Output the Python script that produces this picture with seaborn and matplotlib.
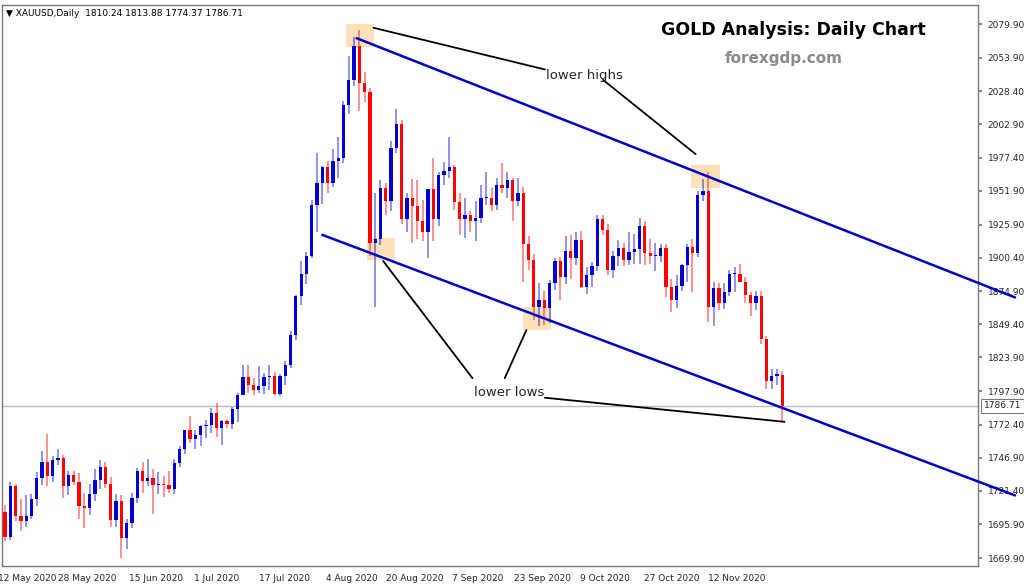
import matplotlib
matplotlib.use("Agg")
import matplotlib.pyplot as plt
from matplotlib.patches import Rectangle
import numpy as np
import seaborn as sns

# daily XAUUSD candles, 6 May 2020 .. 27 Nov 2020
opens = [1705, 1686, 1725, 1702, 1698, 1702, 1715, 1731, 1744, 1733, 1745, 1747, 1725, 1734, 1728, 1710, 1708, 1719,
         1730, 1740, 1727, 1699, 1714, 1685, 1697, 1716, 1737, 1729, 1731, 1726, 1727, 1726, 1723, 1743, 1754, 1768,
         1761, 1764, 1771, 1772,
         1781, 1770, 1775, 1773, 1784, 1795, 1809, 1803, 1799, 1802, 1809, 1810, 1796, 1810, 1818, 1841, 1871, 1888,
         1902, 1941, 1958, 1970, 1958,
         1975, 1977, 2018, 2037, 2063, 2035, 2028, 1912, 1915, 1954, 1944, 1985, 2003, 1930, 1946, 1940, 1929, 1920,
         1953, 1930, 1964,
         1967, 1970, 1943, 1930, 1933, 1929, 1931, 1946, 1946, 1941, 1956, 1954, 1960, 1944, 1950, 1911, 1899, 1863,
         1868, 1862, 1881, 1898,
         1886, 1906, 1900, 1914, 1878, 1887, 1894, 1930, 1922, 1891, 1902, 1908, 1899, 1905, 1907, 1925, 1904, 1902,
         1902, 1908, 1878, 1868,
         1879, 1895, 1909, 1904, 1949, 1952, 1863, 1877, 1866, 1874, 1888, 1888, 1882, 1872, 1866, 1871, 1838, 1806,
         1810, 1810.24]
highs = [1711, 1728, 1727, 1715, 1718, 1719, 1736, 1752, 1765, 1748, 1754, 1749, 1737, 1737, 1735, 1720, 1727, 1738,
         1745, 1744, 1732, 1719, 1718, 1700, 1720, 1739, 1744, 1746, 1738, 1736, 1733, 1737, 1746, 1756, 1768, 1779,
         1768, 1772, 1776, 1785,
         1789, 1776, 1777, 1786, 1797, 1818, 1818, 1808, 1817, 1812, 1818, 1813, 1811, 1821, 1844, 1872, 1898, 1905,
         1945, 1981, 1971, 1975, 1984,
         1993, 2021, 2055, 2070, 2075, 2043, 2031, 1950, 1960, 1958, 1990, 2015, 2006, 1950, 1961, 1960, 1945, 1953,
         1977, 1966, 1974,
         1993, 1972, 1950, 1946, 1936, 1944, 1956, 1966, 1954, 1962, 1973, 1966, 1962, 1962, 1955, 1917, 1903, 1881,
         1875, 1883, 1900, 1901,
         1917, 1918, 1920, 1921, 1893, 1897, 1933, 1933, 1926, 1906, 1914, 1912, 1920, 1919, 1931, 1929, 1915, 1912,
         1911, 1911, 1884, 1887,
         1896, 1911, 1915, 1952, 1961, 1966, 1882, 1881, 1881, 1891, 1893, 1896, 1886, 1874, 1875, 1875, 1840, 1815,
         1815, 1813.88]
lows = [1683, 1684, 1698, 1691, 1694, 1700, 1710, 1726, 1725, 1728, 1741, 1716, 1718, 1726, 1700, 1693, 1703, 1714,
        1723, 1724, 1694, 1694, 1670, 1677, 1693, 1712, 1720, 1725, 1704, 1719, 1717, 1720, 1719, 1740, 1750, 1758,
        1754, 1756, 1762, 1766,
        1763, 1757, 1770, 1769, 1774, 1795, 1797, 1795, 1797, 1796, 1799, 1795, 1794, 1803, 1816, 1837, 1864, 1880,
        1900, 1920, 1942, 1950, 1955,
        1962, 1973, 2011, 2032, 2013, 2020, 1902, 1863, 1910, 1933, 1936, 1981, 1926, 1920, 1912, 1915, 1913, 1900,
        1913, 1925, 1956,
        1962, 1937, 1918, 1916, 1920, 1913, 1927, 1941, 1936, 1937, 1950, 1946, 1929, 1940, 1882, 1891, 1853, 1848,
        1849, 1850, 1876, 1868,
        1880, 1884, 1895, 1877, 1873, 1878, 1890, 1918, 1887, 1885, 1894, 1894, 1895, 1896, 1896, 1895, 1896, 1890,
        1897, 1870, 1859, 1862,
        1875, 1882, 1874, 1901, 1944, 1851, 1848, 1860, 1861, 1871, 1874, 1882, 1866, 1856, 1860, 1834, 1800, 1800,
        1803, 1774.37]
closes = [1686, 1725, 1702, 1698, 1702, 1715, 1731, 1744, 1733, 1745, 1747, 1725, 1734, 1728, 1710, 1708, 1719, 1730,
          1740, 1727, 1699, 1714, 1685, 1697, 1716, 1737, 1729, 1731, 1726, 1727, 1726, 1723, 1743, 1754, 1768, 1761,
          1764, 1771, 1772, 1781,
          1770, 1775, 1773, 1784, 1795, 1809, 1803, 1799, 1802, 1809, 1810, 1796, 1810, 1818, 1841, 1871, 1888, 1902,
          1941, 1958, 1970, 1958, 1975,
          1977, 2018, 2037, 2063, 2035, 2028, 1912, 1915, 1954, 1944, 1985, 2003, 1930, 1946, 1940, 1929, 1920, 1953,
          1930, 1964, 1967,
          1970, 1943, 1930, 1933, 1929, 1931, 1946, 1946, 1941, 1956, 1954, 1960, 1944, 1950, 1911, 1899, 1863, 1868,
          1862, 1881, 1898, 1886,
          1906, 1900, 1914, 1878, 1887, 1894, 1930, 1922, 1891, 1902, 1908, 1899, 1905, 1907, 1925, 1904, 1902, 1902,
          1908, 1878, 1868, 1879,
          1895, 1909, 1904, 1949, 1952, 1863, 1877, 1866, 1874, 1888, 1888, 1882, 1872, 1866, 1871, 1838, 1806, 1810,
          1811, 1786.71]

date_ticks = [4.2, 15.6, 28.5, 40, 52.9, 65.6, 77.4, 89.4, 101.7, 113.5, 126, 138.4]
date_labels = ["12 May 2020", "28 May 2020", "15 Jun 2020", "1 Jul 2020", "17 Jul 2020", "4 Aug 2020",
               "20 Aug 2020", "7 Sep 2020", "23 Sep 2020", "9 Oct 2020", "27 Oct 2020", "12 Nov 2020"]
price_ticks = [2079.90, 2053.90, 2028.40, 2002.90, 1977.40, 1951.90, 1925.90, 1900.40, 1874.90, 1849.40,
               1823.90, 1797.90, 1772.40, 1746.90, 1721.40, 1695.90, 1669.90]
last_price = 1786.71

sns.set_theme(style="white")
plt.rcParams['font.family'] = ['DejaVu Sans']

fig = plt.figure(figsize=(10.24, 5.86), dpi=100)
ax = fig.add_axes([2 / 1024, 20 / 586, 976 / 1024, 561 / 586])

UP, DOWN = "#0000CC", "#FF0000"
x = np.arange(len(closes))
o, h, l, c = map(np.array, (opens, highs, lows, closes))
cols = [UP if cc >= oo else DOWN for oo, cc in zip(o, c)]
ax.vlines(x, l, h, colors=cols, linewidth=1.2, alpha=0.5, zorder=2)
body = np.maximum(np.abs(c - o), 0.8)
ax.bar(x, body, bottom=np.minimum(o, c), width=0.62, color=cols, linewidth=0, zorder=3)

ax.set_xlim(-0.57, 184)
ax.set_ylim(1663.8, 2094.5)

# current price line
ax.axhline(last_price, color="#bbbbbb", lw=1, zorder=1)

# channel lines
ax.plot([66.5, 191], [2069, 1870], color="#0000CC", lw=1.8, clip_on=False, zorder=4)
ax.plot([60, 191], [1918, 1718], color="#0000CC", lw=1.8, clip_on=False, zorder=4)

# highlight boxes
for x0, x1, y0, y1 in [(64.5, 69.7, 2062, 2080), (68.5, 73.7, 1898.6, 1915.5),
                       (98, 103.3, 1845, 1863), (129.7, 135.2, 1954, 1971.6)]:
    ax.add_patch(Rectangle((x0, y0), x1 - x0, y1 - y0, color="#FBD9A6", alpha=0.8, lw=0, zorder=1))

# annotation lines
for (xa, ya), (xb, yb) in [((69.7, 2077), (102.1, 2045)),
                           ((113.1, 2037), (130.6, 1980)),
                           ((71.5, 1898), (88.4, 1808)),
                           ((98.6, 1845), (94.5, 1808)),
                           ((102.1, 1793), (147.4, 1774.5))]:
    ax.plot([xa, xb], [ya, yb], color="black", lw=1.3, zorder=5)

ax.text((581 - 5) / 5.26, 2040, "lower highs", ha="center", va="center", fontsize=9.5, zorder=6)
ax.text((507 - 5) / 5.26, 1797, "lower lows", ha="center", va="center", fontsize=9.5, zorder=6)

fig.text(793 / 1024, 1 - 30 / 586, "GOLD Analysis: Daily Chart", ha="center", va="center",
         fontsize=12.5, fontweight="bold", color="black")
fig.text(784 / 1024, 1 - 58 / 586, "forexgdp.com", ha="center", va="center",
         fontsize=11, fontweight="bold", color="#8a8a8a")
fig.text(6 / 1024, 1 - 14 / 586, "\u25BC XAUUSD,Daily  1810.24 1813.88 1774.37 1786.71", ha="left",
         va="center", fontsize=6.5, color="black")

# axes styling
for s in ax.spines.values():
    s.set_color("#777777")
    s.set_linewidth(1)
ax.yaxis.tick_right()
ax.set_yticks(price_ticks)
ax.set_yticklabels([f"{p:.2f}" for p in price_ticks], fontsize=6.5)
ax.tick_params(axis="y", length=3, color="#777777", pad=4)
ax.set_xticks(date_ticks)
ax.set_xticklabels(date_labels, fontsize=6.5, ha="center")
ax.tick_params(axis="x", length=3, color="#777777", pad=3)
ax.text(1.0 + 6 / 976, last_price, f"{last_price:.2f}", transform=ax.get_yaxis_transform(),
        ha="left", va="center", fontsize=6.5,
        bbox=dict(boxstyle="square,pad=0.3", fc="white", ec="#777777", lw=0.8), zorder=7, clip_on=False)
ax.grid(False)

fig.savefig("out.png", dpi=100)
